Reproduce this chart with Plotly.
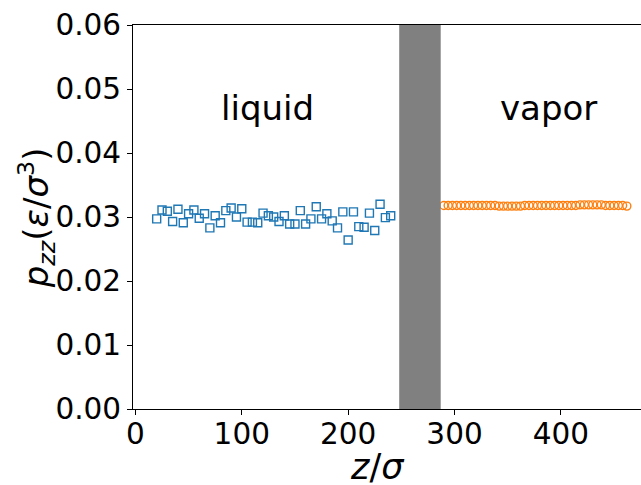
import plotly.graph_objects as go

# liquid-side data (z, p_zz)
z_liquid = [20, 25, 30, 35, 40, 45, 50, 55, 60, 65, 70, 75, 80, 85, 90, 95, 100,
            105, 110, 115, 120, 125, 130, 135, 140, 145, 150, 155, 160, 165, 170,
            175, 180, 185, 190, 195, 200, 205, 210, 215, 220, 225, 230, 235, 240]
p_liquid = [0.0297, 0.0311, 0.0309, 0.0293, 0.0312, 0.0291, 0.0305, 0.0311, 0.0298,
            0.0305, 0.0283, 0.0302, 0.0291, 0.0310, 0.0314, 0.0300, 0.0313, 0.0292,
            0.0292, 0.0291, 0.0306, 0.0302, 0.0300, 0.0293, 0.0302, 0.0289, 0.0289,
            0.0310, 0.0289, 0.0297, 0.0316, 0.0297, 0.0305, 0.0294, 0.0283, 0.0308,
            0.0264, 0.0308, 0.0285, 0.0284, 0.0306, 0.0279, 0.0320, 0.0299, 0.0302]

# vapor-side data
z_vapor = [290, 294, 298, 302, 306, 310, 314, 318, 322, 326, 330, 334, 338, 342, 346,
           350, 354, 358, 362, 366, 370, 374, 378, 382, 386, 390, 394, 398, 402, 406,
           410, 414, 418, 422, 426, 430, 434, 438, 442, 446, 450, 454, 458, 462]
p_vapor = [0.0318, 0.0318, 0.0318, 0.0318, 0.0318, 0.0318, 0.0318, 0.0318, 0.0318,
           0.0318, 0.0318, 0.0318, 0.0318, 0.0317, 0.0317, 0.0317, 0.0317, 0.0317,
           0.0317, 0.0318, 0.0318, 0.0318, 0.0318, 0.0318, 0.0318, 0.0318, 0.0318,
           0.0318, 0.0318, 0.0318, 0.0318, 0.0318, 0.0319, 0.0319, 0.0319, 0.0319,
           0.0319, 0.0319, 0.0318, 0.0318, 0.0318, 0.0318, 0.0318, 0.0317]

interface = [248, 287]
x_ticks = [0, 100, 200, 300, 400]
y_ticks = [0.00, 0.01, 0.02, 0.03, 0.04, 0.05, 0.06]
y_tick_text = ["0.00", "0.01", "0.02", "0.03", "0.04", "0.05", "0.06"]

FONT = "DejaVu Sans"

fig = go.Figure()
fig.add_trace(go.Scatter(
    x=z_liquid, y=p_liquid, mode="markers",
    marker=dict(symbol="square-open", size=8, color="#1f77b4",
                line=dict(width=1.4, color="#1f77b4")),
    showlegend=False, cliponaxis=False))
fig.add_trace(go.Scatter(
    x=z_vapor, y=p_vapor, mode="markers",
    marker=dict(symbol="circle-open", size=8, color="#ff7f0e",
                line=dict(width=1.4, color="#ff7f0e")),
    showlegend=False, cliponaxis=False))

fig.add_shape(type="rect", xref="x", yref="paper",
              x0=interface[0], x1=interface[1], y0=0, y1=1,
              fillcolor="#808080", line=dict(width=0), layer="above")

fig.add_annotation(x=124.5, y=0.0471, xref="x", yref="y", text="liquid",
                   showarrow=False, font=dict(family=FONT, size=34, color="black"))
fig.add_annotation(x=388, y=0.0471, xref="x", yref="y", text="vapor",
                   showarrow=False, font=dict(family=FONT, size=34, color="black"))

# axis titles
fig.add_annotation(x=0.482, y=-0.15, xref="paper", yref="paper",
                   text="<i>z</i>/<i>σ</i>", showarrow=False,
                   xanchor="center", yanchor="middle",
                   font=dict(family=FONT, size=35, color="black"))
fig.add_annotation(x=-0.19, y=0.498, xref="paper", yref="paper",
                   text="<i>p</i><sub><i>zz</i></sub>(<i>ε</i>/<i>σ</i><sup>3</sup>)",
                   showarrow=False, textangle=-90,
                   xanchor="center", yanchor="middle",
                   font=dict(family=FONT, size=34, color="black"))

fig.update_layout(
    width=641, height=485,
    margin=dict(l=133, r=0, t=25, b=76, autoexpand=False),
    paper_bgcolor="white", plot_bgcolor="white",
    font=dict(family=FONT, size=29, color="black"),
    xaxis=dict(range=[-2.26, 475.3], tickvals=x_ticks, ticks="outside",
               ticklen=5, tickwidth=1, tickcolor="black", automargin=False,
               ticklabelstandoff=-6,
               showline=True, linecolor="black", linewidth=1, mirror=True,
               showgrid=False, zeroline=False,
               tickfont=dict(family=FONT, size=29.5, color="black")),
    yaxis=dict(range=[0, 0.06], tickvals=y_ticks, ticktext=y_tick_text,
               ticks="outside", ticklen=5, tickwidth=1, tickcolor="black",
               automargin=False,
               showline=True, linecolor="black", linewidth=1, mirror=False,
               showgrid=False, zeroline=False,
               tickfont=dict(family=FONT, size=29.5, color="black")),
)

fig.write_html("out.html", config={"displayModeBar": False},
               post_script="document.body.style.margin='0px';document.body.style.overflow='hidden';")
